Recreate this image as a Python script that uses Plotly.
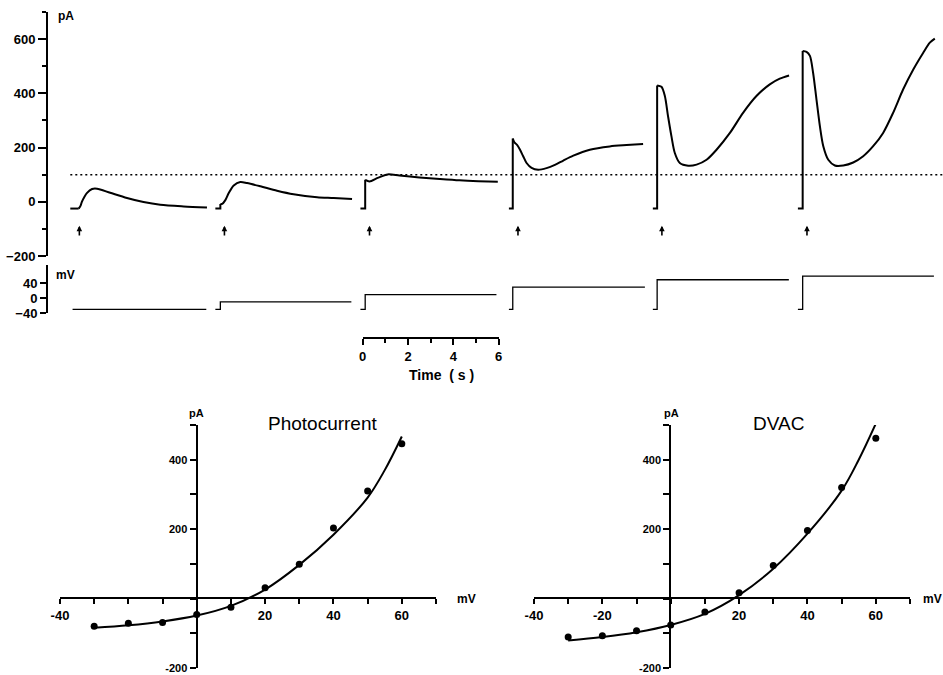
import plotly.graph_objects as go

# ---------------- data ----------------
# top panel: current responses at six command potentials (time in s within each sweep)
step_mV = [-30, -10, 10, 30, 50, 60]
holding_mV = -30
holding_pA = -25
segment_start_s = [-12.9, -6.5, -0.1, 6.45, 12.8, 19.2]
step_onset_s = [0.37, 0.22, 0.21, 0.17, 0.19, 0.21]
sweep_end_s = 6.0
flash_s = 0.4
reference_pA = 100

trace1_t = [0.37, 0.45, 0.51, 0.62, 0.74, 0.96, 1.18, 1.76, 2.5, 3.23, 3.97, 5.0, 6.03]
trace1_pA = [-25, -15, 0, 18, 33, 47, 48, 33, 14, -1, -11, -17, -21]
trace2_t = [0.22, 0.3, 0.44, 0.59, 0.81, 1.1, 1.4, 1.99, 2.72, 3.45, 4.49, 5.22, 6.03]
trace2_pA = [-8, -8, 6, 32, 60, 73, 69, 57, 41, 28, 17, 14, 10]
trace3_t = [0.21, 0.4, 0.76, 1.2, 1.72, 2.6, 3.5, 4.37, 5.2, 6.06]
trace3_pA = [81, 75, 88, 101, 97, 90, 84, 79, 76, 74]
trace4_t = [0.17, 0.25, 0.36, 0.49, 0.63, 0.78, 1.0, 1.29, 1.66, 2.03, 2.4, 2.84, 3.57, 4.45, 5.19, 5.92]
trace4_pA = [233, 218, 210, 192, 168, 143, 125, 118, 124, 136, 152, 170, 192, 204, 209, 213]
trace5_t = [0.19, 0.38, 0.53, 0.67, 0.82, 0.97, 1.19, 1.56, 1.93, 2.37, 2.81, 3.4, 3.98, 4.57, 5.16, 5.6, 6.01]
trace5_pA = [429, 424, 390, 316, 242, 180, 143, 133, 137, 155, 192, 254, 328, 390, 433, 454, 466]
trace6_t = [0.21, 0.38, 0.53, 0.67, 0.82, 0.97, 1.12, 1.34, 1.63, 2.0, 2.44, 2.88, 3.32, 3.76, 4.2, 4.64, 5.09, 5.53, 5.82, 6.04]
trace6_pA = [556, 553, 538, 476, 377, 279, 205, 155, 134, 134, 145, 168, 205, 254, 328, 414, 488, 550, 587, 602]

arrow_tip_pA = -88
arrow_tail_pA = -130

# bottom panels: I-V relations
iv_mV = [-30, -20, -10, 0, 10, 20, 30, 40, 50, 60]
photo_pA = [-80, -71, -69, -46, -25, 31, 99, 203, 310, 446]
dvac_pA = [-111, -107, -93, -76, -39, 17, 95, 196, 320, 462]
fit_mV = [-30, -20, -10, 0, 10, 20, 30, 40, 50, 55, 60]
photo_fit_pA = [-84, -77, -66, -49, -21, 26, 97, 184, 291, 370, 467]
dvac_fit_pA = [-121, -111, -97, -76, -44, 10, 86, 187, 311, 400, 504]

iv_xticks = [-40, -30, -20, -10, 0, 10, 20, 30, 40, 50, 60, 70]
photo_xticktext = ["-40", "", "", "", "", "", "20", "", "40", "", "60", ""]
dvac_xticktext = ["-40", "", "-20", "", "", "", "20", "", "40", "", "60", ""]
iv_yticks = [-200, -100, 0, 100, 200, 300, 400, 500]
iv_yticktext = ["-200", "", "", "", "200", "", "400", ""]

# ---------------- layout helpers ----------------
W, H = 943, 675
def fx(p):
    return p / W
def fy(p):
    return 1 - p / H

PX_PER_S = 22.667
ZERO_PX = 362.7
top_range = [(48 - ZERO_PX) / PX_PER_S, (943 - ZERO_PX) / PX_PER_S]

FONT = "Liberation Sans"
BOLD = dict(family=FONT, size=13, color="black", weight="bold")

fig = go.Figure()

traces_t = [trace1_t, trace2_t, trace3_t, trace4_t, trace5_t, trace6_t]
traces_pA = [trace1_pA, trace2_pA, trace3_pA, trace4_pA, trace5_pA, trace6_pA]

for k in range(6):
    off = segment_start_s[k]
    t = traces_t[k]
    i = traces_pA[k]
    on = step_onset_s[k]
    # baseline + step (linear)
    fig.add_trace(go.Scatter(
        x=[off, off + on, off + t[0]], y=[holding_pA, holding_pA, i[0]],
        mode="lines", line=dict(color="black", width=2), xaxis="x", yaxis="y",
        hoverinfo="skip"))
    # response (smooth)
    fig.add_trace(go.Scatter(
        x=[off + v for v in t], y=i, mode="lines",
        line=dict(color="black", width=2, shape="spline", smoothing=0.8),
        xaxis="x", yaxis="y"))
    # command voltage
    if step_mV[k] == holding_mV:
        vx = [off + 0.1, off + sweep_end_s]
        vy = [holding_mV, holding_mV]
    else:
        vx = [off, off + on, off + on, off + sweep_end_s]
        vy = [holding_mV, holding_mV, step_mV[k], step_mV[k]]
    fig.add_trace(go.Scatter(x=vx, y=vy, mode="lines",
                             line=dict(color="black", width=1.3),
                             xaxis="x2", yaxis="y2"))

# dotted reference line
fig.add_trace(go.Scatter(
    x=[segment_start_s[0], top_range[1]], y=[reference_pA, reference_pA],
    mode="lines", line=dict(color="black", width=1.5, dash="2px,3px"),
    xaxis="x", yaxis="y"))

# invisible trace for time scale bar
fig.add_trace(go.Scatter(x=[0, 6], y=[0, 0], mode="lines",
                         line=dict(width=0, color="rgba(0,0,0,0)"),
                         xaxis="x3", yaxis="y3", hoverinfo="skip"))

# I-V panels
for xa, ya, pts, fit in [("x4", "y4", photo_pA, photo_fit_pA),
                         ("x5", "y5", dvac_pA, dvac_fit_pA)]:
    fig.add_trace(go.Scatter(x=fit_mV, y=fit, mode="lines",
                             line=dict(color="black", width=2, shape="spline", smoothing=1.0),
                             xaxis=xa, yaxis=ya))
    fig.add_trace(go.Scatter(x=iv_mV, y=pts, mode="markers",
                             marker=dict(color="black", size=7),
                             xaxis=xa, yaxis=ya))

# arrows marking the light flash
annotations = []
for k in range(6):
    xa = segment_start_s[k] + flash_s
    annotations.append(dict(
        x=xa, y=arrow_tip_pA, ax=xa, ay=arrow_tail_pA, xref="x", yref="y",
        axref="x", ayref="y", showarrow=True, arrowhead=2, arrowsize=0.7,
        arrowwidth=1.6, arrowcolor="black", text=""))

def label(text, x, y, xanchor="center", size=12, weight="bold"):
    annotations.append(dict(
        text=text, x=fx(x), y=fy(y), xref="paper", yref="paper",
        xanchor=xanchor, yanchor="middle", showarrow=False,
        font=dict(family=FONT, size=size, color="black", weight=weight)))

label("pA", 56, 16, "left", 12)
label("mV", 54, 275, "left", 12)
label("Time &nbsp;( s )", 441, 375, "center", 14)
label("pA", 196, 413, "center", 11)
label("mV", 455, 599, "left", 12)
label("Photocurrent", 323, 423, "center", 19, "normal")
label("pA", 671, 413, "center", 11)
label("mV", 921, 599, "left", 12)
label("DVAC", 778, 423, "center", 19, "normal")

hidden = dict(visible=False, showgrid=False, zeroline=False, automargin=False)

axis_common = dict(showline=True, linecolor="black", linewidth=2,
                   ticks="outside", tickcolor="black", tickwidth=1.5,
                   showgrid=False, zeroline=False, tickfont=BOLD,
                   automargin=False)
iv_yfont = dict(family=FONT, size=11, color="black", weight="bold")

fig.update_layout(
    width=W, height=H, autosize=False,
    margin=dict(l=0, r=0, t=0, b=0, pad=0, autoexpand=False),
    paper_bgcolor="white", plot_bgcolor="rgba(0,0,0,0)",
    showlegend=False,
    annotations=annotations,
    xaxis=dict(domain=[fx(48), 1], range=top_range, anchor="y", **hidden),
    yaxis=dict(domain=[fy(256), fy(12)], range=[-200, 700], anchor="x",
               tickmode="linear", tick0=-200, dtick=200, ticklen=8,
               minor=dict(ticks="outside", dtick=100, ticklen=4,
                          tickcolor="black", tickwidth=1.5),
               **axis_common),
    xaxis2=dict(domain=[fx(48), 1], range=top_range, anchor="y2", matches="x", **hidden),
    yaxis2=dict(domain=[fy(313), fy(265)], range=[-40, 90], anchor="x2",
                tickmode="array", tickvals=[-40, 0, 40], ticklen=6,
                **axis_common),
    xaxis3=dict(domain=[fx(ZERO_PX), fx(ZERO_PX + 6 * PX_PER_S)], range=[0, 6],
                anchor="y3", tickmode="linear", tick0=0, dtick=2, ticklen=6,
                minor=dict(ticks="outside", dtick=1, ticklen=4,
                           tickcolor="black", tickwidth=1.5),
                **axis_common),
    yaxis3=dict(domain=[fy(337.3), fy(330)], range=[-1, 1], anchor="x3", **hidden),
    xaxis4=dict(domain=[fx(60), fx(436)], range=[-40, 70], anchor="free",
                position=fy(598.3), tickmode="array", tickvals=iv_xticks,
                ticktext=photo_xticktext, ticklen=5, **axis_common),
    xaxis5=dict(domain=[fx(534), fx(910)], range=[-40, 70], anchor="free",
                position=fy(598.3), tickmode="array", tickvals=iv_xticks,
                ticktext=dvac_xticktext, ticklen=5, **axis_common),
)
fig.update_layout(
    yaxis4=dict(domain=[fy(668), fy(425)], range=[-200, 500], anchor="free",
                position=fx(196.5), tickmode="array", tickvals=iv_yticks,
                ticktext=iv_yticktext, ticklen=6, **{**axis_common, "tickfont": iv_yfont}),
    yaxis5=dict(domain=[fy(668), fy(425)], range=[-200, 500], anchor="free",
                position=fx(670.3), tickmode="array", tickvals=iv_yticks,
                ticktext=iv_yticktext, ticklen=6, **{**axis_common, "tickfont": iv_yfont}),
)

fig.write_html("out.html", config={"displayModeBar": False},
               post_script="document.body.style.margin='0';document.body.style.padding='0';")
